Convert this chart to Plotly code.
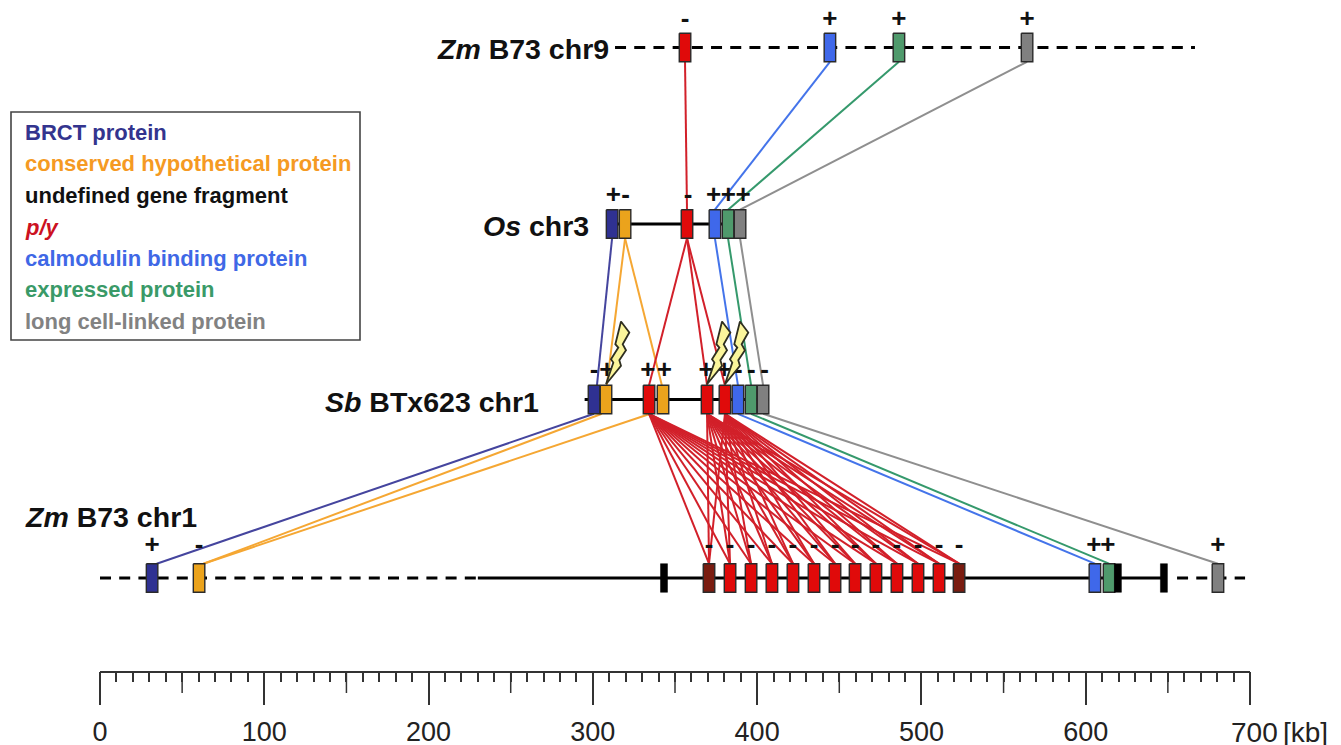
import plotly.graph_objects as go

# ---- data: gene positions in kb on the ruler ----
zm9_genes = [356.1, 444.3, 486.3, 564.3]
zm9_fams = ["py", "cal", "exp", "lon"]
zm9_strand = ["-", "+", "+", "+"]
zm9_strand_x = [356.1, 444.3, 486.3, 564.3]

os_genes = [311.7, 319.6, 357.3, 374.3, 382.3, 389.6]
os_fams = ["brct", "con", "py", "cal", "exp", "lon"]
os_strand = ["+", "-", "-", "+", "+", "+"]
os_strand_x = [312.5, 320.0, 358.0, 373.5, 382.5, 391.5]

sb_genes = [300.7, 308.0, 334.2, 342.7, 369.5, 380.4, 388.3, 396.3, 403.6]
sb_fams = ["brct", "con", "py", "con", "py", "py", "cal", "exp", "lon"]
sb_strand = ["-", "+", "+", "+", "+", "+", "-", "-", "-"]
sb_strand_x = [300.7, 308.5, 333.5, 343.5, 369.0, 380.0, 388.5, 396.5, 404.5]

zm1_genes = [31.7, 60.3, 370.7, 383.5, 396.3, 409.0, 421.8, 434.6, 447.4, 459.6, 472.3,
             485.1, 497.9, 510.7, 522.9, 605.6, 614.2, 680.5]
zm1_fams = ["brct", "con", "dpy", "py", "py", "py", "py", "py", "py", "py", "py",
            "py", "py", "py", "dpy", "cal", "exp", "lon"]
zm1_fragments = [343.3, 619.6, 647.6]
zm1_strand = ["+", "-"] + ["-"] * 13 + ["+", "+", "+"]
zm1_strand_x = [31.7, 60.3, 370.7, 383.5, 396.3, 409.0, 421.8, 434.6, 447.4, 459.6, 472.3,
                485.1, 497.9, 510.7, 522.9, 605.0, 613.5, 680.5]

# chromosome line spans in kb (start, end)
zm9_dashed = [(313.5, 666.5)]
os_solid = [(311.7, 389.6)]
sb_solid = [(295.0, 407.0)]
zm1_dashed = [(0.0, 230.0), (655.6, 697.0)]
zm1_solid = [(230.0, 647.6)]

# homology links in kb: (family, upper x, lower x)
links_9_os = [("py", 356.1, 357.3), ("cal", 444.3, 374.3), ("exp", 486.3, 382.3), ("lon", 564.3, 389.6)]
links_os_sb = [("brct", 311.7, 302.5), ("con", 319.6, 308.5), ("con", 319.6, 342.0),
               ("py", 357.3, 334.2), ("py", 357.3, 369.5), ("py", 357.3, 380.4),
               ("cal", 374.3, 388.3), ("exp", 382.3, 396.3), ("lon", 389.6, 403.6)]
links_sb_zm1 = [("brct", 300.7, 34.5), ("con", 305.5, 63.0), ("con", 335.0, 63.0),
                ("cal", 388.3, 605.6), ("exp", 396.3, 614.2), ("lon", 403.6, 680.5)]
sb_red_sources = [334.2, 369.5, 380.4]
zm1_red_targets = [370.7, 383.5, 396.3, 409.0, 421.8, 434.6, 447.4, 459.6, 472.3,
                   485.1, 497.9, 510.7, 522.9]
bolt_tails = [308.0, 369.5, 380.4]

ruler_ticks = [0, 100, 200, 300, 400, 500, 600, 700]
ruler_labels = ["0", "100", "200", "300", "400", "500", "600", ""]
ruler_mid = [50, 150, 250, 350, 450, 550, 650]

legend_names = ["BRCT protein", "conserved hypothetical protein", "undefined gene fragment",
                "p/y", "calmodulin binding protein", "expressed protein", "long cell-linked protein"]
legend_colors = ["#33348e", "#f59a23", "#111111", "#cc1122", "#3f68e6", "#3a9a68", "#828282"]

track_titles = [("<b><i>Zm</i> B73 chr9</b>", 611, 49, "right"),
                ("<b><i>Os</i> chr3</b>", 591, 226, "right"),
                ("<b><i>Sb</i> BTx623 chr1</b>", 541, 402, "right"),
                ("<b><i>Zm</i> B73 chr1</b>", 23, 517, "left")]

# ---- style ----
W, H = 1341, 745
X0, X1 = 100, 1250
KB = (X1 - X0) / 700.0
FONT = "Liberation Sans"
box_fill = {"brct": "#2f3192", "con": "#eba31c", "py": "#e00a0a", "dpy": "#7a1c10",
            "cal": "#3f68ea", "exp": "#4f9a6c", "lon": "#808080", "frag": "#000000"}
link_col = {"brct": "#45459e", "con": "#f5a733", "py": "#d2202a", "cal": "#4474ea",
            "exp": "#35996c", "lon": "#8f8f8f"}
Y9, YO, YS, YZ = 47.5, 224, 399.5, 578
BOX_H = 14.3


def rects(xs, w, yc):
    ox, oy = [], []
    for x in xs:
        ox += [x - w / 2, x + w / 2, x + w / 2, x - w / 2, x - w / 2, None]
        oy += [yc - BOX_H, yc - BOX_H, yc + BOX_H, yc + BOX_H, yc - BOX_H, None]
    return ox, oy


fig = go.Figure()


def chrom(spans, yc, dash):
    xs, ys = [], []
    for a, b in spans:
        xs += [a, b, None]
        ys += [yc, yc, None]
    fig.add_trace(go.Scatter(x=xs, y=ys, mode="lines", showlegend=False, hoverinfo="skip",
                             line=dict(color="#000000", width=2.8, dash=dash)))


chrom(zm9_dashed, Y9, "11px,8.2px")
chrom(os_solid, YO, "solid")
chrom(sb_solid, YS, "solid")
chrom(zm1_dashed, YZ, "11px,8.2px")
chrom(zm1_solid, YZ, "solid")


def links(items, y_top, y_bot):
    for fam in link_col:
        xs, ys = [], []
        for f, a, b in items:
            if f == fam:
                xs += [a, b, None]
                ys += [y_top, y_bot, None]
        if xs:
            fig.add_trace(go.Scatter(x=xs, y=ys, mode="lines", showlegend=False, hoverinfo="skip",
                                     line=dict(color=link_col[fam], width=2)))


links(links_9_os, Y9 + BOX_H, YO - BOX_H)
links(links_os_sb, YO + BOX_H, YS - BOX_H)
links(links_sb_zm1, YS + BOX_H, YZ - BOX_H)
links([("py", s, t) for s in sb_red_sources for t in zm1_red_targets], YS + BOX_H, YZ - BOX_H)


def boxes(genes, fams, yc):
    for fam in box_fill:
        xs = [g for g, f in zip(genes, fams) if f == fam]
        if xs:
            ox, oy = rects(xs, 11.5 / KB, yc)
            fig.add_trace(go.Scatter(x=ox, y=oy, mode="lines", fill="toself", fillcolor=box_fill[fam],
                                     showlegend=False, hoverinfo="skip",
                                     line=dict(color="#2a2a2a", width=1.4)))


boxes(zm9_genes, zm9_fams, Y9)
boxes(os_genes, os_fams, YO)
boxes(sb_genes, sb_fams, YS)
boxes(zm1_genes, zm1_fams, YZ)
ox, oy = rects(zm1_fragments, 7 / KB, YZ)
fig.add_trace(go.Scatter(x=ox, y=oy, mode="lines", fill="toself", fillcolor="#000000",
                         showlegend=False, hoverinfo="skip", line=dict(color="#000000", width=0.5)))

# strand signs
for xs, signs, yy in [(zm9_strand_x, zm9_strand, 20), (os_strand_x, os_strand, 196),
                      (sb_strand_x, sb_strand, 371.5), (zm1_strand_x, zm1_strand, 546)]:
    fig.add_trace(go.Scatter(x=xs, y=[yy] * len(xs), mode="text", text=signs, showlegend=False,
                             hoverinfo="skip", textposition="middle center",
                             textfont=dict(family=FONT, size=26, color="#111111", weight=700)))

# lightning bolts (outline relative to the strike point)
bolt_shape = [(110, 220), (132, 155), (125, 145), (147, 110), (138, 100), (155, 32), (180, 65),
              (160, 100), (170, 118), (150, 148), (155, 165), (110, 220)]
for tail in bolt_tails:
    bx = [tail + (p[0] - 110) / 3 / KB for p in bolt_shape]
    by = [YS - BOX_H - 1 + (p[1] - 220) / 3 for p in bolt_shape]
    fig.add_trace(go.Scatter(x=bx, y=by, mode="lines", fill="toself", fillcolor="#fbf59b",
                             showlegend=False, hoverinfo="skip",
                             line=dict(color="#2f2f20", width=1.8)))

# ruler mid ticks
mx, my = [], []
for m in ruler_mid:
    mx += [m, m, None]
    my += [671.5, 693, None]
fig.add_trace(go.Scatter(x=mx, y=my, mode="lines", showlegend=False, hoverinfo="skip",
                         line=dict(color="#333333", width=1.5)))

ann = []
for text, px, py, anchor in track_titles:
    ann.append(dict(text=text, xref="paper", yref="y", x=px / W, y=py, xanchor=anchor, yanchor="middle",
                    showarrow=False, font=dict(family=FONT, size=28.5, color="#111111")))
ly = [132, 163, 195, 227, 258, 289, 321]
for name, col, yy in zip(legend_names, legend_colors, ly):
    label = f"<b><i>{name}</i></b>" if name == "p/y" else f"<b>{name}</b>"
    ann.append(dict(text=label, xref="paper", yref="y", x=23 / W, y=yy, xanchor="left", yanchor="middle",
                    showarrow=False, font=dict(family=FONT, size=22, color=col)))
ann.append(dict(text="700", xref="paper", yref="y", x=1254 / W, y=732, xanchor="center", yanchor="middle",
                showarrow=False, font=dict(family=FONT, size=28, color="#222222")))
ann.append(dict(text="[kb]", xref="paper", yref="y", x=1281 / W, y=732, xanchor="left", yanchor="middle",
                showarrow=False, font=dict(family=FONT, size=28, color="#222222")))

fig.update_layout(
    width=W, height=H, margin=dict(l=0, r=0, t=0, b=0), plot_bgcolor="white", paper_bgcolor="white",
    showlegend=False, annotations=ann,
    shapes=[dict(type="rect", xref="paper", yref="y", x0=11 / W, x1=360 / W, y0=112, y1=340,
                 line=dict(color="#444444", width=1.6), fillcolor="rgba(0,0,0,0)")],
    xaxis=dict(domain=[X0 / W, X1 / W], range=[0, 700], anchor="free", position=1 - 671.5 / H, side="bottom",
               automargin=False,
               showgrid=False, zeroline=False, showline=True, linecolor="#333333", linewidth=1.5,
               tickmode="array", tickvals=ruler_ticks, ticktext=ruler_labels, ticks="outside", ticklen=33,
               tickwidth=1.5, tickcolor="#333333", ticklabelstandoff=3,
               tickfont=dict(family=FONT, size=27, color="#222222"),
               minor=dict(dtick=10, tick0=0, ticks="outside", ticklen=10, tickwidth=1.5, tickcolor="#333333",
                          showgrid=False)),
    yaxis=dict(domain=[0, 1], range=[H, 0], visible=False, showgrid=False, zeroline=False, automargin=False),
)

fig.write_html("out.html", post_script="document.body.style.margin='0';", config=dict(displayModeBar=False))
